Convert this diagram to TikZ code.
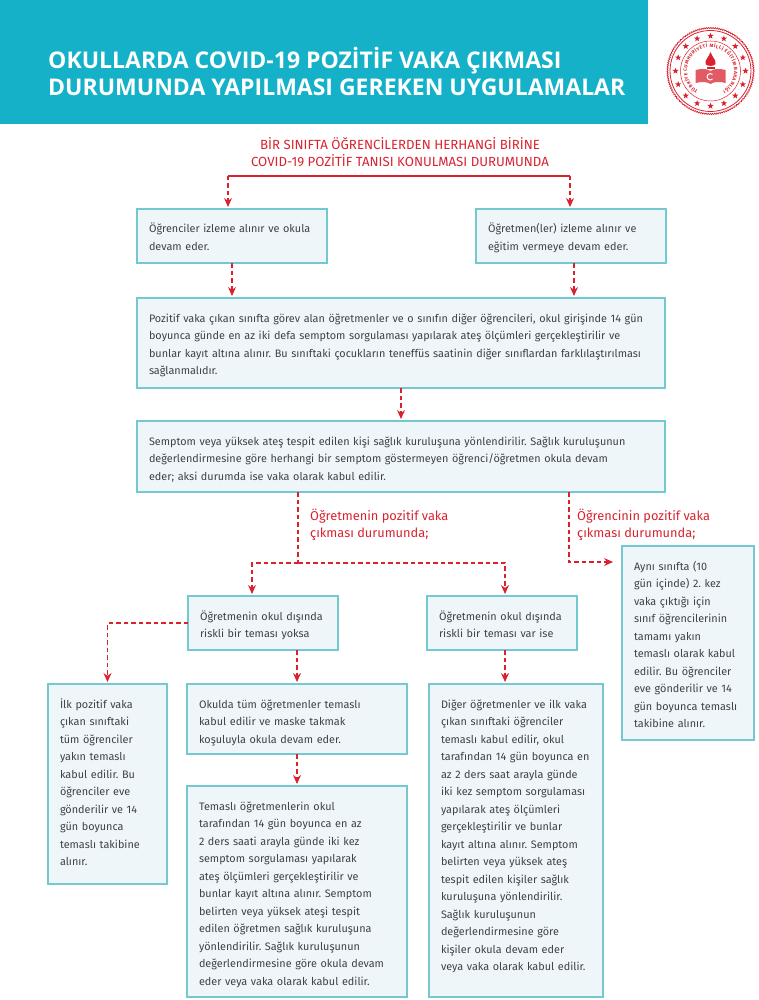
\documentclass[tikz,border=0pt]{standalone}
\usepackage{fontspec}
\setmainfont{Fira Sans}
\newfontfamily\titlefont{Open Sans}
\usetikzlibrary{arrows.meta, shapes.geometric, decorations.text, decorations.pathmorphing}

\definecolor{headteal}{HTML}{14B1C9}
\definecolor{boxfill}{HTML}{EFF6FA}
\definecolor{boxline}{HTML}{74C9D0}
\definecolor{bodygray}{HTML}{3F4144}
\definecolor{flowred}{HTML}{D8232F}

\tikzset{
    infobox/.style 2 args={draw=boxline, fill=boxfill, line width=1.1pt, anchor=north west, outer sep=0pt,
        inner xsep=12pt, inner ysep=0pt, align=left, text=bodygray, text width=#1pt-24pt,
        text height=24pt, text depth=#2pt-24pt,
        font=\fontsize{10.85}{17.5}\selectfont\frenchspacing},
    redlabel/.style={anchor=north west, inner sep=0pt, align=left, text=flowred,
        font=\fontsize{12.8}{16.8}\selectfont},
    flow/.style={draw=flowred, line width=1.2pt, dash pattern=on 4.5pt off 3pt},
    flowtip/.style={flow, shorten >=2pt, -{Stealth[length=9pt, width=8pt]}},
}

\begin{document}
\begin{tikzpicture}[x=1pt, y=-1pt]
    \useasboundingbox (0,0) rectangle (758,1000);
    \fill[headteal] (0,0) rectangle (648,124);
    \node (title) [anchor=west, inner sep=0pt, align=left, text=white, font=\titlefont\bfseries\fontsize{23}{27}\selectfont]
        at (48,71) {OKULLARDA COVID-19 POZİTİF VAKA ÇIKMASI\\DURUMUNDA YAPILMASI GEREKEN UYGULAMALAR};

    % emblem
    \begin{scope}[shift={(710.5,71)}, flowred]
        \draw[line width=.7pt, decorate, decoration={zigzag, segment length=2.2pt, amplitude=.6pt}] (0,0) circle [radius=43];
        \draw[line width=.8pt] (0,0) circle [radius=40.5];
        \draw[line width=.5pt] (0,0) circle [radius=30];
        \foreach \a in {0,22.5,...,337.5}
            \node[star, star points=5, star point ratio=2.4, fill=flowred, inner sep=0pt, minimum size=6.5pt] at (\a:35) {};
        \path[decorate, decoration={text along path, text align={fit to path},
            text={|\fontsize{4.8}{5}\selectfont\bfseries\color{flowred}|TÜRKİYE CUMHURİYETİ MİLLİ EĞİTİM BAKANLIĞI}}]
            (122:23.5) arc [start angle=122, end angle=418, radius=23.5];
        \fill (0,-19) .. controls (-2,-13) and (-6,-11) .. (-5,-7) .. controls (-4.5,-4.5) and (4.5,-4.5) .. (5,-7)
            .. controls (6,-11) and (2,-13) .. (0,-19);
        \fill (-4,-4) rectangle (4,-2);
        \fill[opacity=.75] (-15,-1) -- (-15,12) .. controls (-8,10) and (-3,11) .. (0,13) .. controls (3,11) and (8,10) .. (15,12) -- (15,-1)
            .. controls (8,-3) and (3,-2) .. (0,0) .. controls (-3,-2) and (-8,-3) .. (-15,-1);
        \draw[white, line width=1pt] (2,3.5) arc [start angle=-45, end angle=-315, radius=3.2];
    \end{scope}

    \node (head) [inner sep=0pt, align=center, text=flowred, font=\fontsize{13.25}{16.5}\selectfont] at (400,152)
        {BİR SINIFTA ÖĞRENCİLERDEN HERHANGİ BİRİNE\\COVID-19 POZİTİF TANISI KONULMASI DURUMUNDA};

    \node (izle1) [infobox={190}{54}] at (137,209) {Öğrenciler izleme alınır ve okula\\devam eder.};
    \node (izle2) [infobox={190}{54}] at (476,209) {Öğretmen(ler) izleme alınır ve\\eğitim vermeye devam eder.};
    \node (pozitif) [infobox={528}{90}] at (137,298) {Pozitif vaka çıkan sınıfta görev alan öğretmenler ve o sınıfın diğer öğrencileri, okul girişinde 14 gün\\boyunca günde en az iki defa semptom sorgulaması yapılarak ateş ölçümleri gerçekleştirilir ve\\bunlar kayıt altına alınır. Bu sınıftaki çocukların teneffüs saatinin diğer sınıflardan farklılaştırılması\\sağlanmalıdır.};
    \node (semptom) [infobox={528}{71}] at (137,421) {Semptom veya yüksek ateş tespit edilen kişi sağlık kuruluşuna yönlendirilir. Sağlık kuruluşunun\\değerlendirmesine göre herhangi bir semptom göstermeyen öğrenci/öğretmen okula devam\\eder; aksi durumda ise vaka olarak kabul edilir.};

    \node (lblogrtm) [redlabel] at (310,509) {Öğretmenin pozitif vaka\\çıkması durumunda;};
    \node (lblogrnc) [redlabel] at (577,509) {Öğrencinin pozitif vaka\\çıkması durumunda;};

    \node (yoksa) [infobox={150}{54}] at (188,596) {Öğretmenin okul dışında\\riskli bir teması yoksa};
    \node (varise) [infobox={150}{54}] at (427,596) {Öğretmenin okul dışında\\riskli bir teması var ise};
    \node (ayni) [infobox={132}{194}] at (622,546) {Aynı sınıfta (10\\gün içinde) 2. kez\\vaka çıktığı için\\sınıf öğrencilerinin\\tamamı yakın\\temaslı olarak kabul\\edilir. Bu öğrenciler\\eve gönderilir ve 14\\gün boyunca temaslı\\takibine alınır.};
    \node (ilk) [infobox={119}{200}] at (48,684) {İlk pozitif vaka\\çıkan sınıftaki\\tüm öğrenciler\\yakın temaslı\\kabul edilir. Bu\\öğrenciler eve\\gönderilir ve 14\\gün boyunca\\temaslı takibine\\alınır.};
    \node (maske) [infobox={220}{70}] at (187,684) {Okulda tüm öğretmenler temaslı\\kabul edilir ve maske takmak\\koşuluyla okula devam eder.};
    \node (temasli) [infobox={220}{211}] at (187,786) {Temaslı öğretmenlerin okul\\tarafından 14 gün boyunca en az\\2 ders saati arayla günde iki kez\\semptom sorgulaması yapılarak\\ateş ölçümleri gerçekleştirilir ve\\bunlar kayıt altına alınır. Semptom\\belirten veya yüksek ateşi tespit\\edilen öğretmen sağlık kuruluşuna\\yönlendirilir. Sağlık kuruluşunun\\değerlendirmesine göre okula devam\\eder veya vaka olarak kabul edilir.};
    \node (diger) [infobox={174}{313}] at (429,684) {Diğer öğretmenler ve ilk vaka\\çıkan sınıftaki öğrenciler\\temaslı kabul edilir, okul\\tarafından 14 gün boyunca en\\az 2 ders saat arayla günde\\iki kez semptom sorgulaması\\yapılarak ateş ölçümleri\\gerçekleştirilir ve bunlar\\kayıt altına alınır. Semptom\\belirten veya yüksek ateş\\tespit edilen kişiler sağlık\\kuruluşuna yönlendirilir.\\Sağlık kuruluşunun\\değerlendirmesine göre\\kişiler okula devam eder\\veya vaka olarak kabul edilir.};

    \coordinate (topl) at (228,176);
    \coordinate (topr) at (570,176);
    \coordinate (midj) at (298,563);
    \coordinate (midl) at (252,563);
    \coordinate (midr) at (505,563);
    \coordinate (rightj) at (569,562);
    \coordinate (rightend) at (615,562);

    \draw[draw=flowred, line width=1.1pt] (topl) -- (topr);
    \draw[flowtip] (topl) -- (topl |- izle1.north);
    \draw[flowtip] (topr) -- (topr |- izle2.north);
    \draw[flowtip] (izle1.south) -- (izle1.south |- pozitif.north);
    \draw[flowtip] ([xshift=3pt]izle2.south) -- ([xshift=3pt]izle2.south |- pozitif.north);
    \draw[flowtip] (pozitif.south) -- (semptom.north);
    \draw[flow] (midj |- semptom.south) -- (midj);
    \draw[flowtip] (midj) -- (midl) -- (midl |- yoksa.north);
    \draw[flowtip] (midj) -- (midr) -- (midr |- varise.north);
    \draw[flowtip] (rightj |- semptom.south) -- (rightj) -- (rightend);
    \draw[flowtip] (yoksa.west) -| (ilk.north);
    \draw[flowtip] (maske.north |- yoksa.south) -- (maske.north);
    \draw[flowtip] ([xshift=3pt]varise.south) -- ([xshift=3pt]varise.south |- diger.north);
    \draw[flowtip] (maske.south) -- (temasli.north);
\end{tikzpicture}
\end{document}
